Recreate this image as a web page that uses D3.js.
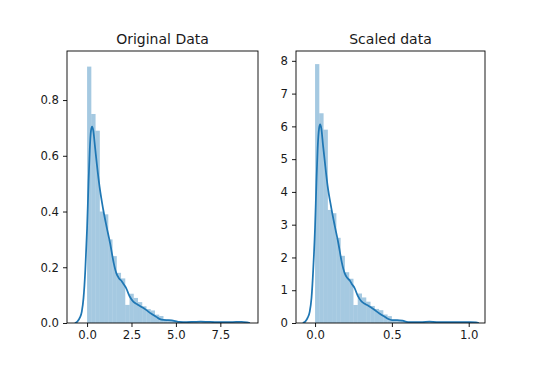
<!DOCTYPE html>
<html><head><meta charset="utf-8">
<script src="https://cdn.jsdelivr.net/npm/d3@7"></script>
<style>
html,body{margin:0;padding:0;background:#fff;}
text{font-family:"DejaVu Sans",sans-serif;fill:#1a1a1a;}
</style></head>
<body>
<svg id="chart" width="549" height="380"></svg>
<script>
// ---------- DATA ----------
const titles = ["Original Data", "Scaled data"];

// histogram (density) for original data, 36 bins spanning 0..8.6
const origBinStart = 0, origBinEnd = 8.6;
const origHeights = [0.92,0.75,0.69,0.40,0.39,0.30,0.24,0.18,0.16,0.065,0.105,0.09,0.075,0.06,0.05,0.045,0.03,0.025,0.012,0.01,0.008,0.004,0.004,0.002,0.003,0.002,0.002,0.003,0.002,0.002,0.001,0.002,0.003,0.002,0.001,0.002];

// KDE of original data
const origKdeX = [-0.69,-0.55,-0.4,-0.3,-0.2,-0.1,0.0,0.08,0.15,0.22,0.28,0.35,0.45,0.55,0.7,0.9,1.1,1.3,1.5,1.65,1.8,1.95,2.05,2.2,2.4,2.6,2.8,3.0,3.3,3.6,3.9,4.1,4.3,4.6,4.9,5.2,5.6,6.0,6.4,6.8,7.2,7.6,8.0,8.4,8.7,9.0,9.17];
const origKdeY = [0,0.005,0.02,0.04,0.09,0.19,0.34,0.50,0.62,0.69,0.705,0.69,0.63,0.57,0.49,0.41,0.345,0.285,0.215,0.178,0.16,0.15,0.14,0.125,0.095,0.077,0.068,0.06,0.048,0.034,0.022,0.014,0.011,0.01,0.008,0.004,0.003,0.004,0.005,0.004,0.003,0.003,0.003,0.004,0.004,0.002,0];

// histogram (density) for scaled data, 36 bins spanning 0..1
const scaledBinStart = 0, scaledBinEnd = 1.0;
const scaledHeights = [7.9,6.4,5.9,3.45,3.35,2.6,2.05,1.55,1.35,0.55,0.9,0.78,0.65,0.52,0.43,0.39,0.26,0.21,0.1,0.09,0.07,0.03,0.03,0.02,0.03,0.02,0.02,0.03,0.02,0.02,0.01,0.02,0.03,0.02,0.01,0.02];

// KDE of scaled data
const scaledKdeX = [-0.080,-0.064,-0.047,-0.035,-0.023,-0.012,0,0.009,0.017,0.026,0.033,0.041,0.052,0.064,0.081,0.105,0.128,0.151,0.174,0.192,0.209,0.227,0.238,0.256,0.279,0.302,0.326,0.349,0.384,0.419,0.453,0.477,0.500,0.535,0.570,0.605,0.651,0.698,0.744,0.791,0.837,0.884,0.930,0.977,1.012,1.047,1.066];
const scaledKdeY = [0,0.04,0.17,0.34,0.77,1.63,2.92,4.30,5.33,5.93,6.06,5.93,5.42,4.90,4.21,3.53,2.97,2.45,1.85,1.53,1.38,1.29,1.20,1.08,0.82,0.66,0.58,0.52,0.41,0.29,0.19,0.12,0.09,0.09,0.07,0.03,0.03,0.03,0.04,0.03,0.03,0.03,0.03,0.03,0.03,0.02,0];

// axis limits and ticks
const origXDomain = [-1.13, 9.62], origYDomain = [0, 0.976];
const origXTicks = [0, 2.5, 5.0, 7.5], origYTicks = [0, 0.2, 0.4, 0.6, 0.8];
const scaledXDomain = [-0.124, 1.106], scaledYDomain = [0, 8.3];
const scaledXTicks = [0, 0.5, 1.0], scaledYTicks = [0,1,2,3,4,5,6,7,8];

// ---------- DRAW ----------
const svg = d3.select("#chart");
const plotTop = 51, plotBottom = 323;
const panels = [
  {title: titles[0], left: 67, right: 258, heights: origHeights, b0: origBinStart, b1: origBinEnd,
   kx: origKdeX, ky: origKdeY, xd: origXDomain, yd: origYDomain, xt: origXTicks, yt: origYTicks,
   xf: d3.format(".1f"), yf: d3.format(".1f")},
  {title: titles[1], left: 296, right: 485, heights: scaledHeights, b0: scaledBinStart, b1: scaledBinEnd,
   kx: scaledKdeX, ky: scaledKdeY, xd: scaledXDomain, yd: scaledYDomain, xt: scaledXTicks, yt: scaledYTicks,
   xf: d3.format(".1f"), yf: d3.format("d")}
];
const blue = "#1f77b4";

panels.forEach((p, i) => {
  const x = d3.scaleLinear().domain(p.xd).range([p.left, p.right]);
  const y = d3.scaleLinear().domain(p.yd).range([plotBottom, plotTop]);
  const g = svg.append("g");
  const clipId = "clip" + i;
  svg.append("clipPath").attr("id", clipId).append("rect")
    .attr("x", p.left).attr("y", plotTop).attr("width", p.right - p.left).attr("height", plotBottom - plotTop);
  const n = p.heights.length;
  const w = (p.b1 - p.b0) / n;
  const bars = p.heights.map((h, k) => ({x0: p.b0 + k * w, x1: p.b0 + (k + 1) * w, h}));
  const plot = g.append("g").attr("clip-path", `url(#${clipId})`);
  plot.selectAll("rect.bar").data(bars).join("rect").attr("class", "bar")
    .attr("x", d => x(d.x0)).attr("width", d => x(d.x1) - x(d.x0))
    .attr("y", d => y(d.h)).attr("height", d => plotBottom - y(d.h))
    .attr("fill", blue).attr("fill-opacity", 0.4);
  const pts = p.kx.map((v, k) => [v, p.ky[k]]);
  plot.append("path").datum(pts)
    .attr("d", d3.line().x(d => x(d[0])).y(d => y(d[1])).curve(d3.curveMonotoneX))
    .attr("fill", "none").attr("stroke", blue).attr("stroke-width", 1.75)
    .attr("stroke-linejoin", "round");

  // axes
  const xa = d3.axisBottom(x).tickValues(p.xt).tickFormat(p.xf).tickSize(4).tickPadding(4);
  const ya = d3.axisLeft(y).tickValues(p.yt).tickFormat(p.yf).tickSize(4).tickPadding(4);
  const gx = g.append("g").attr("transform", `translate(0,${plotBottom})`).call(xa);
  const gy = g.append("g").attr("transform", `translate(${p.left},0)`).call(ya);
  [gx, gy].forEach(a => {
    a.select(".domain").remove();
    a.selectAll("line").attr("stroke", "#000").attr("stroke-width", 0.9);
    a.selectAll("text").style("font-size", "11.7px").attr("fill", "#1a1a1a");
  });
  // frame
  g.append("rect").attr("x", p.left).attr("y", plotTop)
    .attr("width", p.right - p.left).attr("height", plotBottom - plotTop)
    .attr("fill", "none").attr("stroke", "#000").attr("stroke-width", 0.9);
  // title
  g.append("text").attr("x", (p.left + p.right) / 2).attr("y", plotTop - 7)
    .attr("text-anchor", "middle").style("font-size", "14px").text(p.title);
});
</script>
</body></html>
